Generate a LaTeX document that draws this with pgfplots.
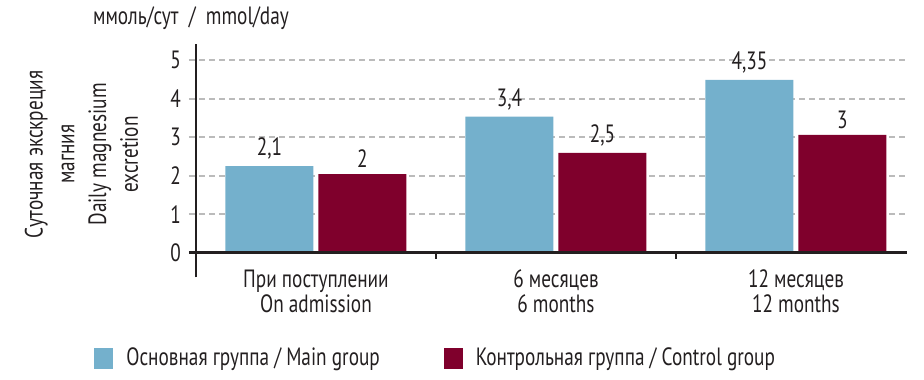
\documentclass[border=0pt]{standalone}
\usepackage{fontspec}
\setmainfont{PT Sans}[FakeStretch=0.77]
\usepackage{pgfplots}
\usepackage{pgfplotstable}
\pgfplotsset{compat=1.18}
\definecolor{mainblue}{HTML}{74B0CC}
\definecolor{ctrlred}{HTML}{7F002C}
\definecolor{txt}{HTML}{231F20}
\definecolor{gridgray}{HTML}{BBBBBB}
\pgfplotstableread{
x y lab
0 2.25 2,1
1 3.53 3,4
2 4.49 4,35
}\maingroup
\pgfplotstableread{
x y lab
0 2.04 2
1 2.59 2,5
2 3.06 3
}\ctrlgroup
\begin{document}
\begin{tikzpicture}[font=\fontsize{12.5}{12.5}\selectfont, text=txt]
\begin{axis}[
  name=ax,
  x=120pt, y=19.25pt,
  xmin=-0.529, xmax=2.4625,
  ymin=0, ymax=5,
  clip=false,
  axis line style={draw=none},
  major tick length=0pt,
  xtick={0,1,2},
  xticklabels={При поступлении\\On admission, 6 месяцев\\6 months, 12 месяцев\\12 months},
  xticklabel style={align=center, yshift=-5pt},
  ytick={0,1,2,3,4,5},
  ymajorgrids=true,
  grid style={gridgray, line width=1pt, dash pattern=on 3pt off 2pt},
  /pgf/number format/assume math mode=true,
  yticklabel style={xshift=-0.5pt},
  ybar, bar width=44pt,
  nodes near coords,
  point meta=explicit symbolic,
  every node near coord/.append style={text=txt, inner sep=3pt},
  legend columns=2,
  legend style={draw=none, fill=none, at={(0,0)}, anchor=west, xshift=-47.5pt, yshift=-52.75pt,
    inner sep=0pt, column sep=6.5pt, nodes={inner sep=0pt, text=txt},
    /tikz/every even column/.append style={column sep=32pt}},
  legend image code/.code={\fill[#1] (0pt,-5.25pt) rectangle (9.5pt,5.25pt);},
]
\addplot[fill=mainblue, draw=none, bar shift=-23.25pt] table[x=x, y=y, meta=lab] {\maingroup};
\addlegendentry{Основная группа / Main group}
\addplot[fill=ctrlred, draw=none, bar shift=23.25pt] table[x=x, y=y, meta=lab] {\ctrlgroup};
\addlegendentry{Контрольная группа / Control group}
\draw[txt, line width=1.2pt] (axis cs:-0.529,0) -- (axis cs:2.4625,0);
\draw[txt, line width=1.2pt] (axis cs:-0.5,-0.64) -- (axis cs:-0.5,5.41);
\draw[txt, line width=1.2pt] (axis cs:0.5,0) -- ([yshift=-3pt]axis cs:0.5,0);
\draw[txt, line width=1.2pt] (axis cs:1.5,0) -- ([yshift=-3pt]axis cs:1.5,0);
\node[xshift=-53.75pt, yshift=1pt, rotate=90, align=center, font=\fontsize{12.5}{15.85}\selectfont] at (rel axis cs:0,0.5)
  {Суточная экскреция\\магния\\Daily magnesium\\excretion};
\node[xshift=1pt, yshift=21pt] at (rel axis cs:0,1) {ммоль/сут\ \ /\ \ mmol/day};
\end{axis}
\path (ax.south west) ++(-94.5pt,-63.25pt) rectangle ++(462pt,189pt);
\end{tikzpicture}
\end{document}
